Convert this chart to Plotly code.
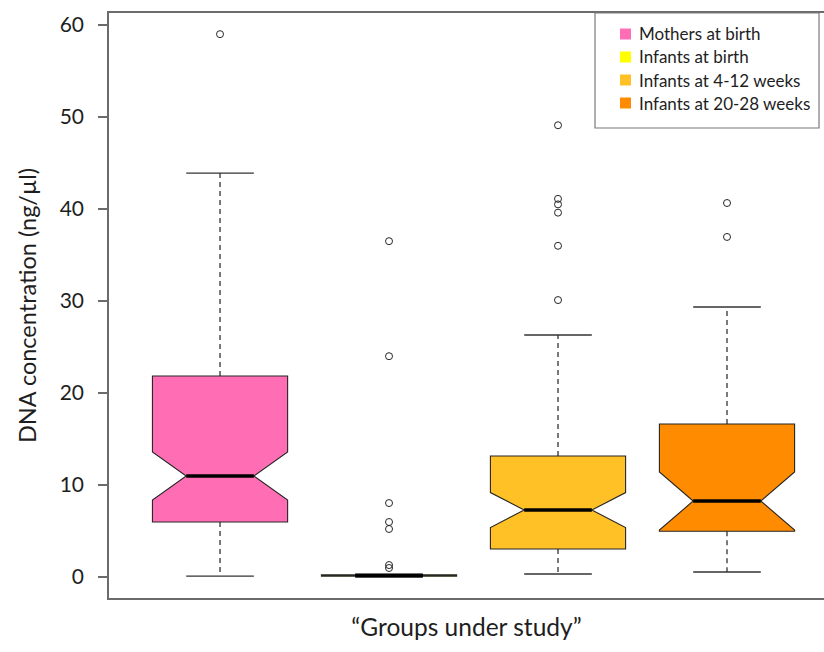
import plotly.graph_objects as go

# ---- data -------------------------------------------------------------
groups = ["Mothers at birth", "Infants at birth",
          "Infants at 4-12 weeks", "Infants at 20-28 weeks"]
positions = [1, 2, 3, 4]
fill_colors = ["#FF6EB4", "#FFFF00", "#FFC125", "#FF8C00"]

lower_whisker = [0.10, 0.02, 0.33, 0.54]
q1 = [5.98, 0.08, 3.04, 4.98]
median = [10.98, 0.15, 7.28, 8.26]
q3 = [21.85, 0.25, 13.15, 16.63]
upper_whisker = [43.9, 0.30, 26.3, 29.35]
notch_span = [2.61, 0.05, 1.90, 3.15]

outliers = [
    [59.0],
    [36.5, 24.0, 8.04, 5.98, 5.22, 1.30, 0.98],
    [49.1, 41.1, 40.5, 39.6, 36.0, 30.1],
    [40.65, 36.96],
]

y_ticks = [0, 10, 20, 30, 40, 50, 60]

# ---- styling ----------------------------------------------------------
FONT = "Lato"
TEXT = "#1e1e1e"
FRAME = "#6b6b6b"
BOX_WIDTH = 0.8
CAP_HALF = BOX_WIDTH / 4       # staples are half the box width
NOTCH_WIDTH = 0.25             # notch inset -> median spans half the box
MED_HALF = BOX_WIDTH / 2 * (1 - 2 * NOTCH_WIDTH)

W, H = 824, 652
PL, PR, PT, PB = 109, 824, 13, 598   # plot area in pixels


def px_x(px):
    return (px - PL) / (PR - PL)


def px_y(py):
    return (PB - py) / (PB - PT)


fig = go.Figure()

# dashed whiskers with solid staples
for i, x in enumerate(positions):
    fig.add_trace(go.Scatter(
        x=[x, x, None, x, x],
        y=[q3[i], upper_whisker[i], None, q1[i], lower_whisker[i]],
        mode="lines", line=dict(color="#222222", width=1.2, dash="5px,4px"),
        hoverinfo="skip", showlegend=False))
    fig.add_trace(go.Scatter(
        x=[x - CAP_HALF, x + CAP_HALF, None, x - CAP_HALF, x + CAP_HALF],
        y=[upper_whisker[i], upper_whisker[i], None,
           lower_whisker[i], lower_whisker[i]],
        mode="lines", line=dict(color="#333333", width=1.4),
        hoverinfo="skip", showlegend=False))

# notched boxes
for i, x in enumerate(positions):
    fig.add_trace(go.Box(
        x=[x], q1=[q1[i]], median=[median[i]], q3=[q3[i]],
        lowerfence=[q1[i]], upperfence=[q3[i]],
        notched=True, notchspan=[notch_span[i]], notchwidth=NOTCH_WIDTH,
        width=BOX_WIDTH, whiskerwidth=0,
        fillcolor=fill_colors[i],
        line=dict(color="#262626", width=1.1),
        name=groups[i], showlegend=False, hoverinfo="skip"))

# thick median bars
for i, x in enumerate(positions):
    fig.add_trace(go.Scatter(
        x=[x - MED_HALF, x + MED_HALF], y=[median[i], median[i]],
        mode="lines", line=dict(color="#000000", width=3.6),
        hoverinfo="skip", showlegend=False))

# outlying points
for i, x in enumerate(positions):
    fig.add_trace(go.Scatter(
        x=[x] * len(outliers[i]), y=outliers[i], mode="markers",
        marker=dict(symbol="circle-open", size=7, color="#262626",
                    line=dict(color="#262626", width=1)),
        hoverinfo="skip", showlegend=False))

# ---- legend box -------------------------------------------------------
shapes = [dict(type="rect", xref="paper", yref="paper",
               x0=px_x(595), x1=px_x(819), y0=px_y(128), y1=px_y(13),
               line=dict(color="#7a7a7a", width=1.2), fillcolor="white",
               layer="above")]
annotations = []
row_y = [34, 57, 80, 103]
for i, name in enumerate(groups):
    cy = row_y[i]
    shapes.append(dict(type="rect", xref="paper", yref="paper",
                       x0=px_x(620), x1=px_x(631),
                       y0=px_y(cy + 5.5), y1=px_y(cy - 5.5),
                       line=dict(width=0), fillcolor=fill_colors[i],
                       layer="above"))
    annotations.append(dict(xref="paper", yref="paper",
                            x=px_x(637), y=px_y(cy), xanchor="left",
                            yanchor="middle", text=name, showarrow=False,
                            font=dict(family=FONT, size=17, color=TEXT)))

fig.update_layout(
    width=W, height=H,
    margin=dict(l=PL, r=W - PR, t=PT, b=H - PB),
    paper_bgcolor="white", plot_bgcolor="white",
    boxmode="overlay",
    shapes=shapes, annotations=annotations,
    showlegend=False,
    xaxis=dict(range=[0.343, 4.574], showticklabels=False, ticks="",
               showgrid=False, zeroline=False,
               showline=True, mirror=True, linecolor=FRAME, linewidth=1.5,
               title=dict(text="\u201cGroups under study\u201d", standoff=20,
                          font=dict(family=FONT, size=24.5, color=TEXT))),
    yaxis=dict(range=[-2.28, 61.3], tickvals=y_ticks,
               ticks="outside", ticklen=9, tickwidth=1.5, tickcolor=FRAME,
               ticklabelstandoff=10,
               tickfont=dict(family=FONT, size=21, color=TEXT),
               showgrid=False, zeroline=False,
               showline=True, mirror=False, linecolor=FRAME, linewidth=1.5,
               title=dict(text="DNA concentration (ng/\u00b5l)", standoff=16,
                          font=dict(family=FONT, size=23.5, color=TEXT))),
)

fig.write_html("out.html")
